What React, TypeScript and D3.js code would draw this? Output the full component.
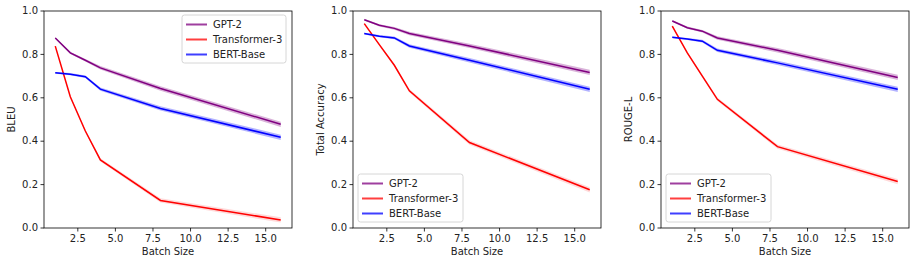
import * as d3 from "d3";

const batchSizes = [1, 2, 3, 4, 8, 16];
const modelNames = ["GPT-2", "Transformer-3", "BERT-Base"];
const modelColors = ["purple", "red", "blue"];
const metricNames = ["BLEU", "Total Accuracy", "ROUGE-L"];

// mean values per metric, per model
const bleuGpt2 = [0.876, 0.807, 0.773, 0.738, 0.643, 0.478];
const bleuTransformer = [0.838, 0.605, 0.447, 0.314, 0.127, 0.037];
const bleuBert = [0.715, 0.709, 0.697, 0.64, 0.551, 0.418];

const accGpt2 = [0.96, 0.934, 0.92, 0.896, 0.839, 0.717];
const accTransformer = [0.942, 0.845, 0.75, 0.632, 0.394, 0.176];
const accBert = [0.896, 0.884, 0.876, 0.839, 0.773, 0.639];

const rougeGpt2 = [0.954, 0.923, 0.907, 0.876, 0.819, 0.694];
const rougeTransformer = [0.93, 0.807, 0.7, 0.593, 0.375, 0.214];
const rougeBert = [0.879, 0.871, 0.861, 0.819, 0.761, 0.639];

// spread of the shaded band
const bandStd = [0.004, 0.005, 0.006, 0.008, 0.01, 0.012];

const yTicks = [0, 0.2, 0.4, 0.6, 0.8, 1.0];
const xTicks = [2.5, 5, 7.5, 10, 12.5, 15];

const panels = [
  { series: [bleuGpt2, bleuTransformer, bleuBert], left: 44, legend: "top" },
  { series: [accGpt2, accTransformer, accBert], left: 353, legend: "bottom" },
  { series: [rougeGpt2, rougeTransformer, rougeBert], left: 661, legend: "bottom" },
];

const W = 248;
const top = 11;
const H = 217;
const font = "DejaVu Sans, sans-serif";

const Panel = ({ p, idx }) => {
  const x = d3.scaleLinear().domain([0.25, 16.75]).range([0, W]);
  const y = d3.scaleLinear().domain([0, 1]).range([H, 0]);
  const line = d3
    .line<number>()
    .x((_, i) => x(batchSizes[i]))
    .y((d) => y(d));
  const area = d3
    .area<number>()
    .x((_, i) => x(batchSizes[i]))
    .y0((d, i) => y(d - bandStd[i]))
    .y1((d, i) => y(d + bandStd[i]));

  const legW = idx === 0 ? 104 : 105;
  const legH = 48;
  const legX = idx === 0 ? W - legW - 6 : 5;
  const legY = p.legend === "top" ? 4 : H - legH - 6;

  return (
    <g transform={`translate(${p.left},${top})`}>
      {p.series.map((s, i) => (
        <g key={i}>
          <path d={area(s)} fill={modelColors[i]} opacity={i === 1 ? 0.15 : 0.3} />
          <path d={line(s)} fill="none" stroke={modelColors[i]} strokeWidth={1.5} />
        </g>
      ))}
      <rect x={0} y={0} width={W} height={H} fill="none" stroke="#000" strokeWidth={0.8} />
      {yTicks.map((t) => (
        <g key={t} transform={`translate(0,${y(t)})`}>
          <line x1={-3.5} x2={0} stroke="#000" strokeWidth={0.8} />
          <text x={-6} dy="0.32em" textAnchor="end" fontSize={10} fontFamily={font} fill="#222">
            {t.toFixed(1)}
          </text>
        </g>
      ))}
      {xTicks.map((t) => (
        <g key={t} transform={`translate(${x(t)},${H})`}>
          <line y1={0} y2={3.5} stroke="#000" strokeWidth={0.8} />
          <text y={14} textAnchor="middle" fontSize={10} fontFamily={font} fill="#222">
            {t.toFixed(1)}
          </text>
        </g>
      ))}
      <text x={W / 2} y={H + 27} textAnchor="middle" fontSize={10} fontFamily={font} fill="#222">
        Batch Size
      </text>
      <text
        transform={`translate(-29,${H / 2}) rotate(-90)`}
        textAnchor="middle"
        fontSize={10}
        fontFamily={font}
        fill="#222"
      >
        {metricNames[idx]}
      </text>
      <g transform={`translate(${legX},${legY})`}>
        <rect width={legW} height={legH} rx={2.5} fill="#fff" fillOpacity={0.8} stroke="#ccc" strokeWidth={0.8} />
        {modelNames.map((n, i) => (
          <g key={n} transform={`translate(0,${9.5 + i * 15})`}>
            <line x1={4} x2={25} stroke={modelColors[i]} strokeWidth={2} opacity={0.75} />
            <text x={31} dy="0.35em" fontSize={10} fontFamily={font} fill="#222">
              {n}
            </text>
          </g>
        ))}
      </g>
    </g>
  );
}

export default function App() {
  return (
    <svg width={915} height={266} style={{ position: "absolute", left: 0, top: 0, background: "#fff" }}>
      {panels.map((p, i) => (
        <Panel key={i} p={p} idx={i} />
      ))}
    </svg>
  );
}
